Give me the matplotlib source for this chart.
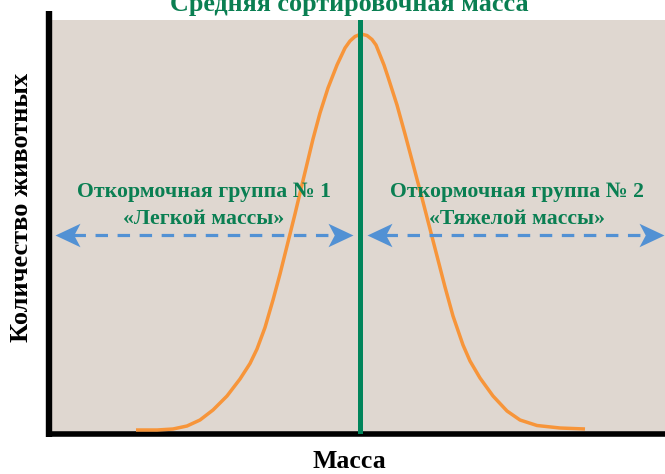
import numpy as np
import matplotlib
matplotlib.use('Agg')
import matplotlib.pyplot as plt
from matplotlib.path import Path
from matplotlib.lines import Line2D

# кривая распределения (масса -> количество животных)
mass = [136, 157, 173, 187, 200, 213, 227, 240, 250, 257, 265, 273, 280, 287, 295, 300, 307, 313,
        320, 328, 337, 345, 350, 355, 361, 367, 372, 376, 380, 384, 388, 397, 405, 413, 422, 430,
        437, 445, 453, 463, 470, 480, 493, 507, 520, 537, 560, 585]
count = [3.5, 3.5, 4.5, 7.5, 13.5, 23.5, 37.5, 54.5, 70, 84.5, 106, 133.5, 159.5, 187.5,
         219.5, 240.5, 269.5, 294.5, 320.5, 345.5, 368.5, 385.5, 392.5, 397, 399.5, 398, 394,
         388.5, 378.5, 368.5, 356.5, 328.5, 299.5, 269.5, 235.5, 204.5, 177.5, 146.5, 117.5,
         88.5, 72.5, 55.5, 37.5, 22.5, 13.5, 8, 5.5, 4.5]

mean_mass = 360
group_ranges = [(55, 353), (367, 664)]
arrow_level = 198.5
group_titles = ['Откормочная группа № 1', 'Откормочная группа № 2']
group_names = ['«Легкой массы»', '«Тяжелой массы»']
group_text_x = [204, 517]

GREEN = '#0a7f52'
ORANGE = '#f7953a'
BLUE = '#5291d4'
BG = '#dfd7d0'

plt.rcParams['font.family'] = ['Liberation Serif', 'DejaVu Serif']

fig = plt.figure(figsize=(6.65, 4.74), dpi=100)
W, H = 665, 474
ax = fig.add_axes([49 / W, (H - 433.5) / H, (W - 49) / W, (433.5 - 19.5) / H])
ax.set_facecolor(BG)
ax.set_xlim(49, 665)
ax.set_ylim(0, 414)

ax.plot(mass, count, color=ORANGE, lw=2.5, solid_capstyle='butt', solid_joinstyle='round', zorder=3)
ax.axvline(mean_mass, color='#00845a', lw=3.6, zorder=4)

# наконечник стрелки с вырезом
head = Path([(0, 0), (1, 0.47), (0.75, 0), (1, -0.47), (0, 0)],
            [Path.MOVETO, Path.LINETO, Path.LINETO, Path.LINETO, Path.CLOSEPOLY])
head_r = Path([(-x, y) for x, y in head.vertices], head.codes)
for x0, x1 in group_ranges:
    ax.plot([x0 + 18, x1 - 18], [arrow_level, arrow_level], color=BLUE, lw=2.3,
            dashes=(3.9, 3.0), zorder=5)
    ax.plot([x0], [arrow_level], marker=head, markersize=36, color=BLUE, mew=0, zorder=5)
    ax.plot([x1], [arrow_level], marker=head_r, markersize=36, color=BLUE, mew=0, zorder=5)

for tx, t1, t2 in zip(group_text_x, group_titles, group_names):
    ax.text(tx, 433.5 - 192, t1, ha='center', va='center', fontsize=15.7,
            fontweight='bold', color=GREEN, zorder=6)
    ax.text(tx, 433.5 - 219, t2, ha='center', va='center', fontsize=15.7,
            fontweight='bold', color=GREEN, zorder=6)

ax.set_xticks([])
ax.set_yticks([])
for s in ['top', 'right']:
    ax.spines[s].set_visible(False)
ax.spines['bottom'].set_linewidth(4.0)
ax.spines['left'].set_visible(False)
ax.spines['bottom'].set_capstyle('butt')
# левая ось выходит выше фона
fig.add_artist(Line2D([49 / W, 49 / W], [(H - 436.5) / H, (H - 10.5) / H],
                      color='black', lw=4.6, solid_capstyle='butt'))

fig.text(349 / W, 1 - 11 / H, 'Средняя сортировочная масса', ha='center', va='baseline',
         fontsize=18.8, fontweight='bold', color=GREEN)
fig.text(349 / W, 1 - 462 / H, 'Масса', ha='center', va='center',
         fontsize=18.5, fontweight='bold', color='black')
fig.text(22 / W, 1 - 207 / H, 'Количество животных', ha='center', va='center', rotation=90,
         fontsize=19, fontweight='bold', color='black')

fig.savefig('out.png', dpi=100)
